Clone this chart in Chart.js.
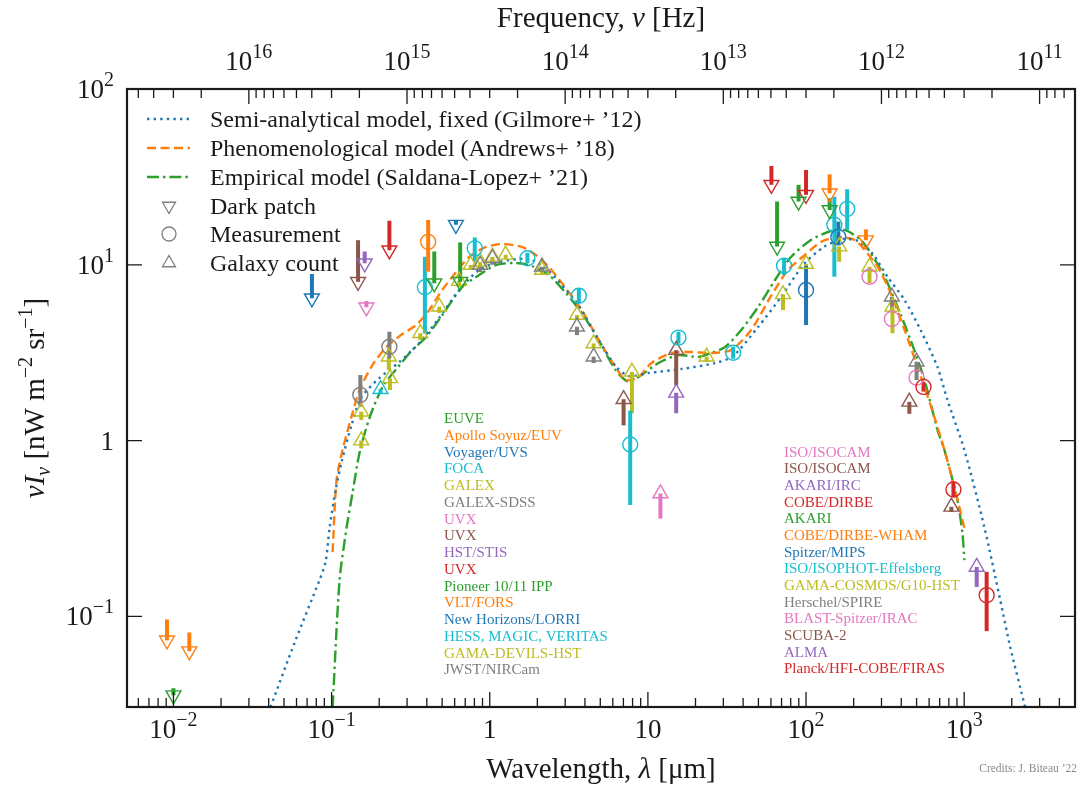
<!DOCTYPE html>
<html>
<head>
<meta charset="utf-8">
<script src="https://cdn.jsdelivr.net/npm/chart.js@4.4.1/dist/chart.umd.min.js"></script>
<style>
  html, body { margin: 0; padding: 0; background: #fff; }
  canvas { display: block; }
</style>
</head>
<body>
<canvas id="ebl" width="1085" height="785"></canvas>
<script>
// speed of light in μm·Hz, used for the frequency axis on top
const C_UM_HZ = 2.998e14;
const SERIF = '"Liberation Serif", "Times New Roman", serif';

const palette = {
  blue: '#1f77b4', orange: '#ff7f0e', green: '#2ca02c', red: '#d62728', purple: '#9467bd',
  brown: '#8c564b', pink: '#e377c2', gray: '#7f7f7f', olive: '#bcbd22', cyan: '#17becf'
};

// model curves: wavelength [μm] and νIν [nW m^-2 sr^-1]
const gilmoreLambda = [0.0411, 0.0585, 0.0839, 0.0916, 0.0971, 0.106, 0.1156, 0.1337, 0.1545, 0.2004,
  0.268, 0.3584, 0.479, 0.6405, 0.856, 1.144, 1.768, 2.364, 3.654, 4.884, 6.249, 7.548, 10.09, 16.28,
  26.67, 34.63, 49.76, 69.5, 97.0, 129.7, 170.8, 212.3, 264, 328, 420, 530, 678, 784, 1003, 1341,
  1691, 1955, 2430];
const gilmoreFlux = [0.0305, 0.0713, 0.161, 0.2035, 0.318, 0.523, 0.755, 1.225, 1.768, 2.269,
  2.798, 3.589, 4.98, 7.19, 9.34, 10.37, 10.79, 9.22, 5.83, 3.733, 2.655, 2.329, 2.422, 2.553,
  2.761, 3.027, 4.426, 6.557, 10.1, 12.63, 14.02, 13.66, 11.52, 8.52, 6.30, 4.255, 2.62, 1.70, 0.883, 0.322,
  0.1237, 0.0668, 0.0304];

const andrewsLambda = [0.1015, 0.1075, 0.1173, 0.1356, 0.1501, 0.1813, 0.2221, 0.2802, 0.3432, 0.4145,
  0.5005, 0.6133, 0.7406, 0.9478, 1.195, 1.598, 1.957, 2.364, 2.855, 3.816, 4.884, 6.249, 7.225, 8.727,
  10.54, 14.08, 18.83, 25.17, 33.64, 44.96, 60.08, 76.91, 98.42, 124.1, 158.9, 203.3, 235.0, 283.8,
  342.8, 420.1, 507.2, 612.4, 750.3, 866.9, 1003];
const andrewsFlux = [0.2319, 0.5958, 0.883, 1.434, 1.939, 2.690, 3.405, 4.037, 4.544, 5.530,
  7.188, 9.10, 11.08, 12.63, 13.13, 12.63, 11.37, 9.72, 7.88, 5.530, 3.733, 2.620, 2.210, 2.298,
  2.761, 3.148, 3.189, 3.148, 3.274, 4.255, 6.644, 9.34, 11.37, 13.48, 14.39, 13.84, 12.14, 9.72,
  6.913, 4.255, 2.620, 1.592, 0.883, 0.5436, 0.3177];

const saldanaLambda = [0.1015, 0.1123, 0.1243, 0.1356, 0.1501, 0.1735, 0.2097, 0.2568, 0.3239, 0.3968,
  0.5005, 0.6689, 0.8198, 1.096, 1.464, 1.847, 2.364, 3.026, 3.816, 4.884, 6.249, 7.548, 8.727, 11.66,
  15.59, 20.84, 25.17, 30.83, 38.89, 49.76, 63.68, 80.34, 107.4, 143.5, 175.9, 221.8, 256.4, 314.2,
  379.5, 458.1, 561.4, 677.6, 750.3, 906.0, 974.3, 1003];
const saldanaFlux = [0.0304, 0.1607, 0.3177, 0.5026, 0.849, 1.343, 2.016, 2.553, 3.274, 3.882,
  5.179, 7.474, 8.52, 9.97, 10.24, 9.84, 8.75, 6.913, 5.317, 3.733, 2.519, 2.153, 2.298, 2.761,
  3.066, 2.987, 3.148, 3.405, 4.255, 5.75, 8.195, 11.08, 13.84, 15.57, 15.78, 13.84, 11.67, 8.52,
  5.75, 3.733, 2.210, 1.148, 0.883, 0.4585, 0.2976, 0.2089];

// dark-patch upper limits: [colour, λ, νIν, top of arrow]
const darkPatches = [
  ['orange', 0.0091, 0.073, 0.096], ['orange', 0.0126, 0.0634, 0.081], ['green', 0.0100, 0.0356, 0.039],
  ['blue', 0.0751, 6.45, 8.86], ['brown', 0.147, 8.0, 13.8], ['purple', 0.162, 10.2, 11.9],
  ['pink', 0.166, 5.73, 6.22], ['red', 0.232, 12.1, 17.8], ['green', 0.446, 7.85, 11.9],
  ['green', 0.650, 8.0, 13.4], ['blue', 0.611, 16.9, 18.0], ['red', 60.4, 28.5, 36.5],
  ['red', 100, 25.0, 34.6], ['green', 65.6, 12.7, 22.9], ['green', 89.7, 22.9, 28.5],
  ['green', 141, 20.5, 23.9], ['orange', 141, 25.5, 32.7], ['orange', 239, 13.8, 15.9]
];

// direct measurements: [colour, λ, νIν, low, high]
const measurements = [
  ['orange', 0.408, 13.5, 9.14, 18.0], ['cyan', 0.389, 7.45, 4.07, 11.1], ['cyan', 0.804, 12.4, 10.4, 14.3],
  ['cyan', 1.73, 10.9, 10.2, 11.7], ['cyan', 3.66, 6.67, 6.06, 7.28], ['cyan', 7.73, 0.95, 0.43, 1.48],
  ['cyan', 15.6, 3.85, 3.56, 4.16], ['cyan', 34.6, 3.16, 2.92, 3.42], ['cyan', 72.6, 9.88, 8.75, 10.8],
  ['cyan', 151, 16.9, 8.55, 24.4], ['cyan', 182, 20.8, 15.8, 26.9], ['gray', 0.152, 1.82, 1.56, 2.36],
  ['gray', 0.232, 3.42, 2.94, 4.16], ['blue', 100, 7.19, 4.54, 9.85], ['blue', 160, 14.4, 12.9, 17.6],
  ['pink', 252, 8.55, 8.55, 8.55], ['pink', 349, 4.92, 4.92, 4.92], ['pink', 500, 2.28, 2.28, 2.28],
  ['red', 553, 2.02, 1.90, 2.16], ['red', 855, 0.527, 0.479, 0.583], ['red', 1387, 0.132, 0.0824, 0.179]
];

// galaxy-count lower limits: [colour, λ, νIν, bottom of bar]
const galaxyCounts = [
  ['cyan', 0.204, 1.96, 1.84], ['olive', 0.154, 1.46, 1.31], ['olive', 0.154, 1.00, 0.903],
  ['olive', 0.230, 3.00, 2.52], ['olive', 0.234, 2.26, 1.94], ['olive', 0.364, 4.08, 3.73],
  ['olive', 0.479, 5.78, 5.32], ['olive', 0.640, 8.08, 7.47], ['olive', 0.758, 9.97, 9.34],
  ['olive', 0.869, 10.4, 9.8], ['olive', 1.04, 11.1, 10.5], ['olive', 1.26, 11.4, 10.8],
  ['olive', 2.14, 9.34, 8.8], ['olive', 3.56, 5.18, 4.9], ['olive', 4.54, 3.57, 3.37],
  ['olive', 7.93, 2.46, 1.43], ['olive', 23.5, 3.00, 2.80], ['olive', 71.5, 6.79, 5.53],
  ['olive', 100, 10.1, 9.6], ['olive', 162, 12.7, 10.4], ['olive', 252, 9.75, 7.85],
  ['olive', 352, 5.78, 4.08], ['gray', 0.87, 9.97, 9.10], ['gray', 1.04, 10.9, 10.0],
  ['gray', 2.14, 9.75, 9.0], ['gray', 3.56, 4.44, 3.98], ['gray', 4.54, 3.00, 2.76],
  ['gray', 349, 6.58, 5.53], ['gray', 500, 2.81, 2.21], ['brown', 7.02, 1.72, 1.22],
  ['brown', 15.1, 3.27, 2.07], ['purple', 15.1, 1.87, 1.43], ['pink', 12.0, 0.50, 0.36],
  ['brown', 450, 1.66, 1.42], ['brown', 830, 0.42, 0.392], ['purple', 1200, 0.191, 0.147]
];

// instrument names listed inside the plot
const uvOpticalNames = ['EUVE', 'Apollo Soyuz/EUV', 'Voyager/UVS', 'FOCA', 'GALEX', 'GALEX-SDSS', 'UVX', 'UVX',
  'HST/STIS', 'UVX', 'Pioneer 10/11 IPP', 'VLT/FORS', 'New Horizons/LORRI', 'HESS, MAGIC, VERITAS',
  'GAMA-DEVILS-HST', 'JWST/NIRCam'];
const uvOpticalColors = ['green', 'orange', 'blue', 'cyan', 'olive', 'gray', 'pink', 'brown', 'purple', 'red',
  'green', 'orange', 'blue', 'cyan', 'olive', 'gray'];
const infraredNames = ['ISO/ISOCAM', 'ISO/ISOCAM', 'AKARI/IRC', 'COBE/DIRBE', 'AKARI', 'COBE/DIRBE-WHAM',
  'Spitzer/MIPS', 'ISO/ISOPHOT-Effelsberg', 'GAMA-COSMOS/G10-HST', 'Herschel/SPIRE', 'BLAST-Spitzer/IRAC',
  'SCUBA-2', 'ALMA', 'Planck/HFI-COBE/FIRAS'];
const infraredColors = ['pink', 'brown', 'purple', 'red', 'green', 'orange', 'blue', 'cyan', 'olive', 'gray',
  'pink', 'brown', 'purple', 'red'];

// axis ticks
const wavelengthTicks = [0.01, 0.1, 1, 10, 100, 1000];
const wavelengthTickLabels = ['10^-2', '10^-1', '1', '10', '10^2', '10^3'];
const frequencyTicks = [1e16, 1e15, 1e14, 1e13, 1e12, 1e11];
const frequencyTickLabels = ['10^16', '10^15', '10^14', '10^13', '10^12', '10^11'];
const fluxTicks = [0.1, 1, 10, 100];
const fluxTickLabels = ['10^-1', '1', '10^1', '10^2'];

const modelNames = ['Semi-analytical model, fixed (Gilmore+ \u201912)', 'Phenomenological model (Andrews+ \u201918)',
  'Empirical model (Saldana-Lopez+ \u201921)'];
const markerNames = ['Dark patch', 'Measurement', 'Galaxy count'];

// ---------- datasets ----------
const zip = (xs, ys) => xs.map((x, i) => ({ x, y: ys[i] }));

function curve(xs, ys, color, dash) {
  return {
    data: zip(xs, ys), showLine: true, borderColor: color, borderWidth: 2.4, borderDash: dash,
    pointRadius: 0, tension: 0.25, order: 3
  };
}

function bar(color, lam, lo, hi) {
  return {
    data: [{ x: lam, y: lo }, { x: lam, y: hi }], showLine: true, borderColor: palette[color],
    borderWidth: 4, pointRadius: 0, order: 2
  };
}

function markers(rows, style, rotation, radius) {
  return {
    data: rows.map(r => ({ x: r[1], y: r[2] })), showLine: false,
    pointStyle: style, pointRotation: rotation, pointRadius: radius,
    pointBorderColor: rows.map(r => palette[r[0]]), pointBackgroundColor: 'rgba(0,0,0,0)',
    pointBorderWidth: 1.4, order: 1
  };
}

const datasets = [
  curve(gilmoreLambda, gilmoreFlux, palette.blue, [2.4, 4.2]),
  curve(andrewsLambda, andrewsFlux, palette.orange, [9, 4.5]),
  curve(saldanaLambda, saldanaFlux, palette.green, [12, 4, 2.4, 4])
];
darkPatches.forEach(r => datasets.push(bar(r[0], r[1], r[2], r[3])));
measurements.forEach(r => { if (r[4] > r[3]) datasets.push(bar(r[0], r[1], r[3], r[4])); });
galaxyCounts.forEach(r => datasets.push(bar(r[0], r[1], r[3], r[2])));
datasets.push(markers(darkPatches, 'triangle', 180, 8.6));
datasets.push(markers(measurements, 'circle', 0, 7.5));
datasets.push(markers(galaxyCounts, 'triangle', 0, 8.6));

// ---------- text helpers ----------
function drawRich(ctx, parts, x, y, align) {
  let w = 0;
  parts.forEach(p => { ctx.font = p.font; w += ctx.measureText(p.text).width; });
  let cx = align === 'center' ? x - w / 2 : align === 'right' ? x - w : x;
  ctx.textAlign = 'left';
  ctx.textBaseline = 'alphabetic';
  parts.forEach(p => {
    ctx.font = p.font;
    ctx.fillText(p.text, cx, y + (p.dy || 0));
    cx += ctx.measureText(p.text).width;
  });
}

function powerParts(label) {
  const [base, exp] = label.split('^');
  const parts = [{ text: base, font: `27px ${SERIF}` }];
  if (exp) parts.push({ text: exp.replace('-', '\u2212'), font: `20px ${SERIF}`, dy: -12 });
  return parts;
}

// frame, ticks, labels, legend and instrument names
const decorations = {
  id: 'decorations',
  afterDraw(chart) {
    const { ctx, chartArea: a, scales: { x, y } } = chart;
    ctx.save();
    ctx.strokeStyle = '#1a1a1a';
    ctx.fillStyle = '#1a1a1a';

    // ticks
    ctx.lineWidth = 1.3;
    ctx.beginPath();
    for (let d = -3; d <= 4; d++) {
      for (let m = 1; m <= 9; m++) {
        const lam = m * Math.pow(10, d);
        if (lam < x.min || lam > x.max) continue;
        const px = x.getPixelForValue(lam);
        const len = m === 1 ? 15 : 9;
        ctx.moveTo(px, a.bottom); ctx.lineTo(px, a.bottom - len);
      }
    }
    for (let d = 10; d <= 17; d++) {
      for (let m = 1; m <= 9; m++) {
        const lam = C_UM_HZ / (m * Math.pow(10, d));
        if (lam < x.min || lam > x.max) continue;
        const px = x.getPixelForValue(lam);
        const len = m === 1 ? 15 : 9;
        ctx.moveTo(px, a.top); ctx.lineTo(px, a.top + len);
      }
    }
    fluxTicks.forEach(v => {
      const py = y.getPixelForValue(v);
      ctx.moveTo(a.left, py); ctx.lineTo(a.left + 15, py);
      ctx.moveTo(a.right, py); ctx.lineTo(a.right - 15, py);
    });
    ctx.stroke();

    // frame
    ctx.lineWidth = 2.2;
    ctx.strokeRect(a.left, a.top, a.right - a.left, a.bottom - a.top);

    // tick labels
    wavelengthTicks.forEach((v, i) =>
      drawRich(ctx, powerParts(wavelengthTickLabels[i]), x.getPixelForValue(v), a.bottom + 31, 'center'));
    frequencyTicks.forEach((v, i) =>
      drawRich(ctx, powerParts(frequencyTickLabels[i]), x.getPixelForValue(C_UM_HZ / v), a.top - 19, 'center'));
    fluxTicks.forEach((v, i) =>
      drawRich(ctx, powerParts(fluxTickLabels[i]), a.left - 13, y.getPixelForValue(v) + 9, 'right'));

    // axis titles
    const big = `29px ${SERIF}`, bigIt = `italic 29px ${SERIF}`, sup = `20px ${SERIF}`, supIt = `italic 20px ${SERIF}`;
    drawRich(ctx, [{ text: 'Wavelength, ', font: big }, { text: '\u03bb', font: bigIt }, { text: ' [\u03bcm]', font: big }],
      (a.left + a.right) / 2, 778, 'center');
    drawRich(ctx, [{ text: 'Frequency, ', font: big }, { text: '\u03bd', font: bigIt }, { text: ' [Hz]', font: big }],
      (a.left + a.right) / 2, 27, 'center');
    ctx.save();
    ctx.translate(44, (a.top + a.bottom) / 2);
    ctx.rotate(-Math.PI / 2);
    drawRich(ctx, [
      { text: '\u03bdI', font: bigIt }, { text: '\u03bd', font: supIt, dy: 6 },
      { text: ' [nW m', font: big }, { text: '\u22122', font: sup, dy: -12 },
      { text: ' sr', font: big }, { text: '\u22121', font: sup, dy: -12 }, { text: ']', font: big }
    ], 0, 0, 'center');
    ctx.restore();

    // legend
    const rowY = [119, 148, 177, 206, 234, 263];
    const dashes = [[2.4, 4.2], [9, 4.5], [12, 4, 2.4, 4]];
    const lineColors = [palette.blue, palette.orange, palette.green];
    ctx.lineWidth = 2.4;
    dashes.forEach((dash, i) => {
      ctx.strokeStyle = lineColors[i];
      ctx.setLineDash(dash);
      ctx.beginPath(); ctx.moveTo(147, rowY[i]); ctx.lineTo(190, rowY[i]); ctx.stroke();
    });
    ctx.setLineDash([]);
    ctx.strokeStyle = palette.gray;
    ctx.lineWidth = 1.3;
    const r = 7.5, mx = 169;
    ctx.beginPath();
    ctx.moveTo(mx - r * 0.866, rowY[3] - r / 2); ctx.lineTo(mx + r * 0.866, rowY[3] - r / 2); ctx.lineTo(mx, rowY[3] + r); ctx.closePath();
    ctx.moveTo(mx + 7, rowY[4]); ctx.arc(mx, rowY[4], 7, 0, Math.PI * 2);
    ctx.moveTo(mx - r * 0.866, rowY[5] + r / 2); ctx.lineTo(mx + r * 0.866, rowY[5] + r / 2); ctx.lineTo(mx, rowY[5] - r); ctx.closePath();
    ctx.stroke();
    ctx.fillStyle = '#1a1a1a';
    ctx.font = `24px ${SERIF}`;
    ctx.textAlign = 'left';
    ctx.textBaseline = 'alphabetic';
    modelNames.concat(markerNames).forEach((t, i) => ctx.fillText(t, 210, rowY[i] + 8));

    // instrument names
    ctx.font = `15px ${SERIF}`;
    uvOpticalNames.forEach((t, i) => {
      ctx.fillStyle = palette[uvOpticalColors[i]];
      ctx.fillText(t, 444, 418.3 + i * 16.73 + 5);
    });
    infraredNames.forEach((t, i) => {
      ctx.fillStyle = palette[infraredColors[i]];
      ctx.fillText(t, 784, 451.7 + i * 16.67 + 5);
    });

    // credits
    ctx.fillStyle = '#8a8a8a';
    ctx.font = `11.5px ${SERIF}`;
    ctx.textAlign = 'right';
    ctx.fillText('Credits: J. Biteau \u201922', 1077, 772);
    ctx.restore();
  }
};

new Chart(document.getElementById('ebl'), {
  type: 'scatter',
  data: { datasets },
  options: {
    responsive: false,
    animation: false,
    layout: { padding: { left: 127, top: 89, right: 7, bottom: 78 } },
    scales: {
      x: { type: 'logarithmic', min: 0.005085, max: 5020, display: false },
      y: { type: 'logarithmic', min: 0.0305, max: 100, display: false }
    },
    plugins: { legend: { display: false }, tooltip: { enabled: false } }
  },
  plugins: [decorations]
});
</script>
</body>
</html>
